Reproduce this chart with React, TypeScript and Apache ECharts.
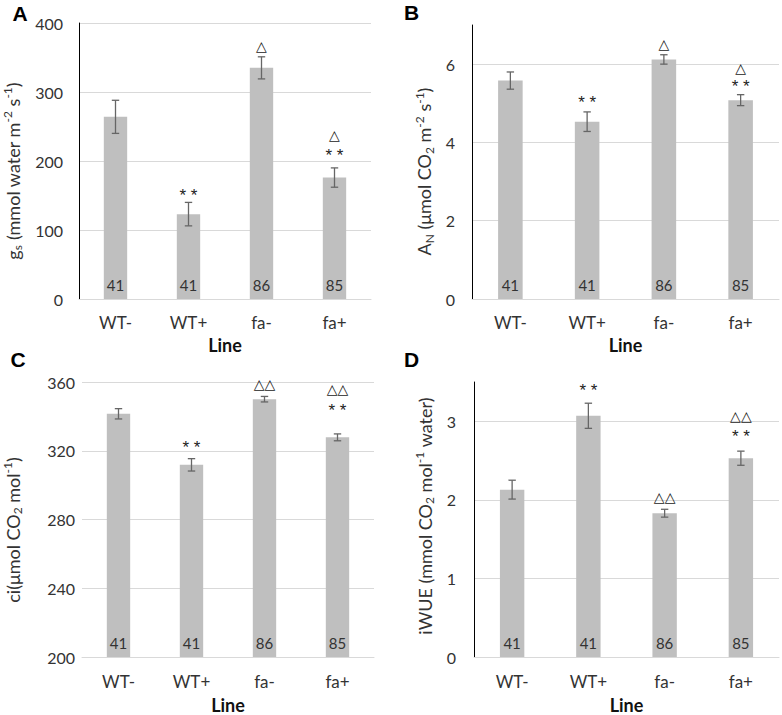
import React, { useEffect, useRef } from "react";
import * as echarts from "echarts";

const categories = ["WT-", "WT+", "fa-", "fa+"];
const nLabels = ["41", "41", "86", "85"];

const gsMean = [264, 123, 335, 176];
const gsErr = [24, 17, 16, 14];
const anMean = [5.58, 4.53, 6.12, 5.08];
const anErr = [0.22, 0.25, 0.12, 0.14];
const ciMean = [341.5, 311.8, 350, 327.8];
const ciErr = [3, 3.6, 1.6, 2];
const wueMean = [2.13, 3.07, 1.83, 2.53];
const wueErr = [0.12, 0.16, 0.05, 0.09];

// significance marks: [category index, y value, text]
const gsMarks: [number, number, string][] = [[1, 156, "* *"], [2, 366, "△"], [3, 214, "* *"], [3, 238, "△"]];
const anMarks: [number, number, string][] = [[1, 5.13, "* *"], [2, 6.51, "△"], [3, 5.53, "* *"], [3, 5.89, "△"]];
const ciMarks: [number, number, string][] = [[1, 324.3, "* *"], [2, 359, "△△"], [3, 345.5, "* *"], [3, 355.7, "△△"]];
const wueMarks: [number, number, string][] = [[1, 3.44, "* *"], [2, 2.04, "△△"], [3, 2.86, "* *"], [3, 3.07, "△△"]];

const yTicksA = { min: 0, max: 400, interval: 100 };
const yTicksB = { min: 0, max: 7, interval: 2 };
const yTicksC = { min: 200, max: 360, interval: 40 };
const yTicksD = { min: 0, max: 3.5, interval: 1 };

const FONT = "Lato, 'Open Sans', sans-serif";
const TXT = "#333";
const GRIDC = "#d9d9d9";

export default function App() {
  const ref = useRef<HTMLDivElement>(null);
  useEffect(() => {
    if (!ref.current) return;
    const chart = echarts.init(ref.current, undefined, { renderer: "svg" });

    const panels = [
      { grid: { left: 79, top: 23, width: 292, height: 276 }, mean: gsMean, err: gsErr, marks: gsMarks, y: yTicksA, axisLine: true, labelMargin: 16, xMargin: 15, nameGap: 37 },
      { grid: { left: 472, top: 25, width: 307, height: 274 }, mean: anMean, err: anErr, marks: anMarks, y: yTicksB, axisLine: true, labelMargin: 17, xMargin: 15, nameGap: 37 },
      { grid: { left: 82, top: 382, width: 292, height: 277 }, mean: ciMean, err: ciErr, marks: ciMarks, y: yTicksC, axisLine: false, labelMargin: 7, xMargin: 16, nameGap: 39 },
      { grid: { left: 474, top: 382, width: 305, height: 277 }, mean: wueMean, err: wueErr, marks: wueMarks, y: yTicksD, axisLine: true, labelMargin: 18, xMargin: 16, nameGap: 39 },
    ];

    const grids: any[] = [];
    const xAxes: any[] = [];
    const yAxes: any[] = [];
    const series: any[] = [];

    panels.forEach((p, i) => {
      grids.push({ ...p.grid, containLabel: false });
      xAxes.push({
        type: "category",
        gridIndex: i,
        data: categories,
        boundaryGap: true,
        axisTick: { show: false },
        axisLine: { show: true, lineStyle: { color: GRIDC, width: 1 } },
        axisLabel: { fontSize: 17, color: TXT, fontFamily: FONT, margin: p.xMargin },
        name: "Line",
        nameLocation: "middle",
        nameGap: p.nameGap,
        nameTextStyle: { fontSize: 18, fontWeight: "bold", color: "#111", fontFamily: FONT },
      });
      const nTicks = Math.floor((p.y.max - p.y.min) / p.y.interval + 1e-9) + 1;
      const extra = Math.abs((p.y.max - p.y.min) / p.y.interval - (nTicks - 1)) > 1e-9;
      const lineColors: string[] = [];
      for (let k = 0; k < nTicks; k++) lineColors.push(GRIDC);
      if (extra) lineColors.push("rgba(0,0,0,0)");
      yAxes.push({
        type: "value",
        gridIndex: i,
        min: p.y.min,
        max: p.y.max,
        interval: p.y.interval,
        axisTick: { show: false },
        axisLine: { show: p.axisLine, lineStyle: { color: "#000", width: 1 } },
        axisLabel: {
          fontSize: 16,
          color: TXT,
          fontFamily: FONT,
          margin: p.labelMargin,
          showMaxLabel: !extra,
          formatter: (v: number) => (extra && Math.abs(v - p.y.max) < 1e-9 ? "" : String(v)),
        },
        splitLine: { show: true, lineStyle: { color: lineColors, width: 1 } },
      });
      series.push({
        type: "bar",
        xAxisIndex: i,
        yAxisIndex: i,
        data: p.mean,
        barWidth: "32%",
        itemStyle: { color: "#bfbfbf" },
        label: {
          show: true,
          position: "insideBottom",
          distance: 7,
          fontSize: 15,
          color: "#333",
          fontFamily: FONT,
          formatter: (prm: any) => nLabels[prm.dataIndex],
        },
        silent: true,
      });
      series.push({
        type: "custom",
        xAxisIndex: i,
        yAxisIndex: i,
        clip: false,
        data: p.mean.map((m, k) => [k, m, p.err[k]]),
        encode: { x: 0, y: 1 },
        renderItem: (params: any, api: any) => {
          const x = api.value(0);
          const m = api.value(1);
          const e = api.value(2);
          const t = api.coord([x, m + e]);
          const b = api.coord([x, m - e]);
          const hw = 3.7;
          const st = { stroke: "#666", lineWidth: 1.3 };
          return {
            type: "group",
            children: [
              { type: "line", shape: { x1: t[0], y1: t[1], x2: b[0], y2: b[1] }, style: st },
              { type: "line", shape: { x1: t[0] - hw, y1: t[1], x2: t[0] + hw, y2: t[1] }, style: st },
              { type: "line", shape: { x1: b[0] - hw, y1: b[1], x2: b[0] + hw, y2: b[1] }, style: st },
            ],
          };
        },
        silent: true,
        z: 3,
      });
      series.push({
        type: "custom",
        xAxisIndex: i,
        yAxisIndex: i,
        clip: false,
        data: p.marks.map((mk) => [mk[0], mk[1]]),
        encode: { x: 0, y: 1 },
        renderItem: (params: any, api: any) => {
          const mk = p.marks[params.dataIndex];
          const pt = api.coord([api.value(0), api.value(1)]);
          const isStar = mk[2].indexOf("*") >= 0;
          return {
            type: "text",
            x: pt[0],
            y: pt[1] + (isStar ? 4 : 0),
            style: {
              text: mk[2],
              fontSize: isStar ? 17 : 14,
              fontFamily: isStar ? "'Liberation Sans', Arial, sans-serif" : "'DejaVu Sans', sans-serif",
              fill: "#222",
              align: "center",
              verticalAlign: "middle",
              textAlign: "center",
              textVerticalAlign: "middle",
            },
          };
        },
        silent: true,
        z: 4,
      });
    });

    const rich = {
      n: { fontSize: 18, fontFamily: FONT, color: TXT, lineHeight: 22, verticalAlign: "middle" },
      sp: { fontSize: 12, fontFamily: FONT, color: TXT, lineHeight: 22, verticalAlign: "top" },
      sb: { fontSize: 12, fontFamily: FONT, color: TXT, lineHeight: 22, verticalAlign: "bottom" },
    };
    const yTitle = (x: number, y: number, text: string) => ({
      type: "text",
      x,
      y,
      rotation: Math.PI / 2,
      style: { text, rich, align: "center", verticalAlign: "middle", fill: TXT, fontSize: 18, fontFamily: FONT },
    });
    const letter = (x: number, y: number, t: string) => ({
      type: "text",
      x,
      y,
      style: { text: t, font: "bold 21px 'Liberation Sans', Arial, sans-serif", fill: "#000", align: "center", verticalAlign: "middle" },
    });

    chart.setOption({
      animation: false,
      backgroundColor: "#fff",
      grid: grids,
      xAxis: xAxes,
      yAxis: yAxes,
      series,
      graphic: [
        yTitle(12.5, 171, "{n|g}{sb|s}{n| (mmol water m}{sp|-2}{n| s}{sp|-1}{n|)}"),
        yTitle(424, 171.5, "{n|A}{sb|N}{n| (μmol CO}{sb|2}{n| m}{sp|-2}{n| s}{sp|-1}{n|)}"),
        yTitle(12.5, 530, "{n|ci(μmol CO}{sb|2}{n| mol}{sp|-1}{n|)}"),
        yTitle(424.5, 516, "{n|iWUE (mmol CO}{sb|2}{n| mol}{sp|-1}{n| water)}"),
        letter(20, 13.5, "A"),
        letter(411.5, 12, "B"),
        letter(18, 359, "C"),
        letter(411.5, 359, "D"),
      ],
    });
    return () => chart.dispose();
  }, []);
  return (
    <div
      ref={ref}
      style={{ position: "absolute", left: 0, top: 0, width: 782, height: 715, background: "#fff" }}
    />
  );
}
